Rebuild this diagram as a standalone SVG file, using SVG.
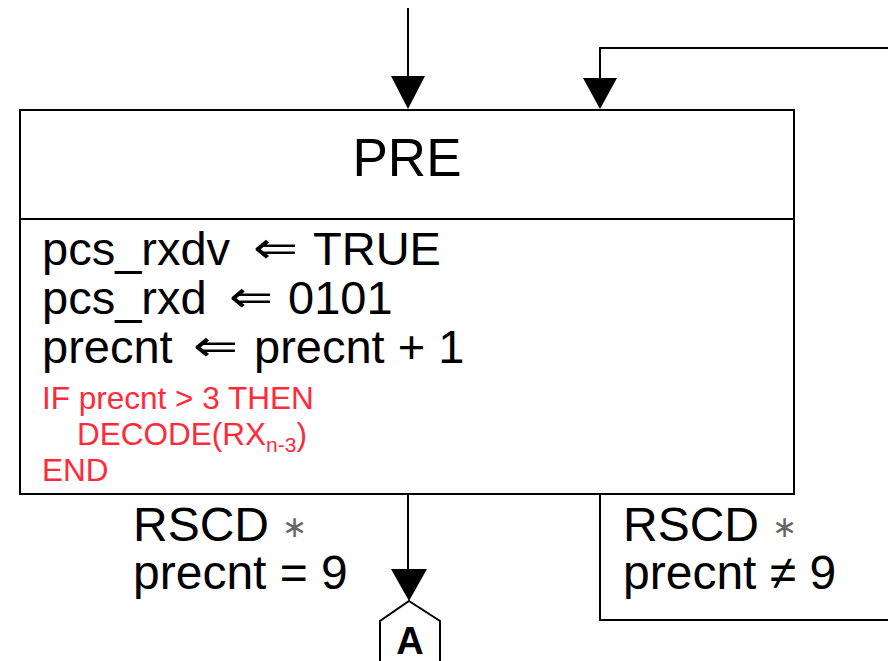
<svg xmlns="http://www.w3.org/2000/svg" width="888" height="661" viewBox="0 0 888 661">
<defs>
<style>
.ln{stroke:#000;stroke-width:2;fill:none}
.t{font-family:"Liberation Sans",Arial,sans-serif;fill:#000}
.big{font-size:47px}
.lbl{font-size:48px}
.arr{font-family:"DejaVu Sans",sans-serif;font-size:44px}
.red{font-family:"Liberation Sans",Arial,sans-serif;fill:#ff2a3a;font-size:31.5px}
.ast{fill:#666;font-size:30px}
</style>
</defs>
<rect width="888" height="661" fill="#fff"/>
<g id="connectors">
<line class="ln" x1="408" y1="8" x2="408" y2="76"/>
<path d="M391,76 L425,76 L408,109 Z" fill="#000"/>
<polyline class="ln" points="888,48 600,48 600,78"/>
<path d="M583,78 L617,78 L600,109 Z" fill="#000"/>
<line class="ln" x1="408" y1="494" x2="408" y2="569"/>
<path d="M391,569 L427,569 L409,601 Z" fill="#000"/>
<polyline class="ln" points="600,494 600,620 888,620"/>
</g>
<g id="PRE">
<rect class="ln" x="20" y="110" width="774" height="384"/>
<line class="ln" x1="20" y1="219" x2="794" y2="219"/>
<text class="t" x="407" y="176" font-size="53" text-anchor="middle">PRE</text>
<text class="t big" x="42" y="265">pcs_rxdv</text>
<text class="t arr" x="253" y="263" textLength="45" lengthAdjust="spacingAndGlyphs">⇐</text>
<text class="t big" x="313" y="265">TRUE</text>
<text class="t big" x="42" y="314">pcs_rxd</text>
<text class="t arr" x="229" y="312" textLength="44" lengthAdjust="spacingAndGlyphs">⇐</text>
<text class="t big" x="288" y="314">0101</text>
<text class="t big" x="42" y="363">precnt</text>
<text class="t arr" x="193" y="361" textLength="45" lengthAdjust="spacingAndGlyphs">⇐</text>
<text class="t big" x="254" y="363">precnt + 1</text>
<text class="red" x="42" y="409">IF precnt &gt; 3 THEN</text>
<text class="red" x="77" y="445">DECODE(RX<tspan font-size="21" dy="7">n-3</tspan><tspan dy="-7">)</tspan></text>
<text class="red" x="42" y="481">END</text>
</g>
<g id="label-exit">
<text class="t lbl" x="133" y="541">RSCD <tspan class="ast" dy="-4">∗</tspan></text>
<text class="t lbl" x="133" y="589">precnt = 9</text>
</g>
<g id="label-loop">
<text class="t lbl" x="623" y="541">RSCD <tspan class="ast" dy="-4">∗</tspan></text>
<text class="t lbl" x="623" y="589">precnt ≠ 9</text>
</g>
<g id="A">
<polygon class="ln" points="409,601 440,621 440,665 380,665 380,621"/>
<text class="t" x="410" y="654" font-size="38" font-weight="bold" text-anchor="middle">A</text>
</g>
</svg>
